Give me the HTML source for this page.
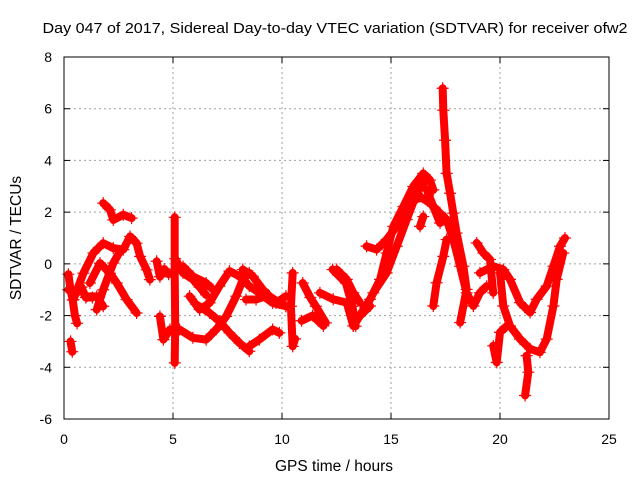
<!DOCTYPE html>
<html><head><meta charset="utf-8"><style>
html,body{margin:0;padding:0;background:#fff}
svg{display:block;font-family:"Liberation Sans",sans-serif}
</style></head><body>
<svg id="chart" width="640" height="480" viewBox="0 0 640 480">
<rect width="640" height="480" fill="#fff"/>
<text x="335" y="33" font-size="14.5" text-anchor="middle" textLength="585" lengthAdjust="spacingAndGlyphs" fill="#000">Day 047 of 2017, Sidereal Day-to-day VTEC variation (SDTVAR) for receiver ofw2</text>
<g id="grid"></g>
<g id="series"></g>
<rect x="64" y="57" width="545" height="362" fill="none" stroke="#000" stroke-width="1"/>
<g id="ticks"></g>
<text x="334" y="471" font-size="15.5" text-anchor="middle">GPS time / hours</text>
<text transform="translate(21,238) rotate(-90)" font-size="15.5" text-anchor="middle">SDTVAR / TECUs</text>
</svg>
<script>
const xTicks = [0, 5, 10, 15, 20, 25];
const yTicks = [-6, -4, -2, 0, 2, 4, 6, 8];
const arcHours = [
 [0.2,0.3,0.4,0.5,0.6],
 [0.2,0.5,0.8,1.0,1.3],
 [0.43,0.89,1.35,1.8,2.26,2.72,3.03,3.33,3.49,3.79,3.94],
 [1.04,1.5,1.8],
 [1.19,1.65,2.11,2.42,2.87,3.33],
 [1.5,1.8,2.26,2.57],
 [1.8,2.11,2.26,2.72,3.1],
 [0.3,0.38],
 [4.25,4.4,4.6,4.8],
 [4.4,4.56,4.86],
 [5.08,5.08,5.1,5.08],
 [5.1,5.46,5.91,6.22,6.52],
 [6.07,6.68,7.13,7.59,8.05,8.5],
 [5.3,5.91,6.52,6.98,7.44,7.9,8.2,8.5],
 [5.76,6.22,6.68,7.13,7.59,8.05,8.5,8.96,9.57,10.18],
 [5.46,5.91,6.52,6.83],
 [8.2,8.66,9.12,9.42,9.88,10.18],
 [8.35,8.81,9.27,9.73,10.18],
 [8.5,8.96,9.57,9.88],
 [10.49,10.41,10.49,10.6],
 [10.95,11.3,11.55,12.01],
 [12.32,12.93,13.23,13.38],
 [10.9,11.4,11.9],
 [11.74,12.35,12.97,13.27,13.58,14.04],
 [12.51,12.97,13.27,13.58],
 [13.27,14.04,14.5,14.8,15.11,15.57,16.02,16.48,16.79,16.94],
 [14.19,14.8,15.26,15.72,16.18,16.48],
 [13.88,14.34,14.8,15.26,15.72,16.33,16.79,17.25,17.55,17.86,18.17,18.47,18.78,19.08,19.39],
 [16.64,16.94,17.25,17.55],
 [17.37,17.4,17.48,17.55,17.71,17.86,18.01,18.32,18.47,18.17],
 [16.94,17.09,17.4,17.55],
 [16.33,16.48],
 [18.93,19.24,19.54,19.69],
 [19.08,19.69,20.15,20.46,20.92,21.38,21.68,22.14,22.45,22.75,22.98],
 [20.0,20.15,20.46,20.92,21.38,21.83,22.14,22.45,22.6,22.9],
 [19.69,19.85,20.0,20.31],
 [21.22,21.3,21.15]
];
const arcValues = [
 [-0.4,-1.0,-1.4,-2.0,-2.3],
 [-1.0,-1.2,-0.9,-1.3,-1.3],
 [-1.38,-0.36,0.42,0.8,0.61,0.55,1.06,0.8,0.29,-0.23,-0.61],
 [-1.26,-1.26,-1.64],
 [-0.74,0.03,-0.36,-0.74,-1.38,-1.9],
 [-1.77,-1.0,0.03,0.48],
 [2.35,2.09,1.7,1.9,1.77],
 [-3.0,-3.4],
 [0.1,-0.5,-0.2,-0.4],
 [-2.03,-2.93,-2.54],
 [1.8,-0.22,-2.41,-3.83],
 [0.2,-0.35,-0.6,-0.9,-1.2],
 [-1.57,-1.9,-2.22,-2.67,-3.06,-3.38],
 [-2.54,-2.86,-2.93,-2.54,-2.03,-1.25,-0.61,-0.35],
 [-1.25,-1.77,-1.51,-0.86,-0.28,-0.48,-0.86,-1.12,-1.51,-1.64],
 [-0.1,-0.48,-0.74,-0.99],
 [-0.22,-0.48,-0.99,-1.25,-1.51,-1.64],
 [-1.38,-1.38,-1.25,-1.51,-1.25],
 [-3.19,-2.93,-2.54,-2.67],
 [-0.35,-1.64,-3.19,-2.9],
 [-0.74,-1.3,-1.64,-2.28],
 [-0.22,-0.74,-1.64,-2.41],
 [-2.2,-2.0,-2.4],
 [-1.12,-1.37,-1.5,-2.4,-2.01,-1.63],
 [-0.22,-0.6,-1.12,-1.5],
 [-2.4,-1.37,-0.6,0.42,1.45,2.22,2.99,3.5,3.24,2.86],
 [-1.12,-0.35,0.68,1.71,2.73,3.12],
 [0.68,0.55,0.94,1.45,2.22,2.6,2.35,1.96,1.71,0.94,-0.09,-1.12,-1.63,-1.12,-0.86],
 [2.86,2.22,1.58,1.71],
 [6.79,5.94,4.78,3.5,2.73,1.96,1.19,-0.09,-0.99,-2.27],
 [-1.63,-0.73,0.29,0.94],
 [1.45,1.83],
 [0.81,0.42,0.17,-1.12],
 [-0.35,-0.09,-0.22,-0.6,-1.5,-1.88,-1.37,-0.86,-0.09,0.68,1.0],
 [-0.35,-1.63,-2.4,-2.91,-3.29,-3.42,-2.91,-1.63,-0.6,0.42],
 [-3.17,-3.81,-2.65,-2.4],
 [-3.55,-4.19,-5.09]
];
const NS = "http://www.w3.org/2000/svg";
const X0 = 64, X1 = 609, Y0 = 419, Y1 = 57;
function xs(h){ return X0 + (h - 0) / 25 * (X1 - X0); }
function ys(v){ return Y0 - (v + 6) / 14 * (Y0 - Y1); }
const grid = document.getElementById('grid');
const ticks = document.getElementById('ticks');
xTicks.forEach(t => {
  const x = xs(t);
  if (t > 0 && t < 25) {
    const g = document.createElementNS(NS, 'line');
    
    
    g.setAttribute('x1', x); g.setAttribute('x2', x); g.setAttribute('y1', Y1); g.setAttribute('y2', Y0);
    g.setAttribute('stroke', '#a0a0a0'); g.setAttribute('stroke-dasharray', '2,3');
    grid.appendChild(g);
  }
  [[Y0, Y0 - 6], [Y1, Y1 + 6]].forEach(p => {
    const tk = document.createElementNS(NS, 'line');
    
    
    tk.setAttribute('x1', x); tk.setAttribute('x2', x); tk.setAttribute('y1', p[0]); tk.setAttribute('y2', p[1]);
    tk.setAttribute('stroke', '#000');
    ticks.appendChild(tk);
  });
  const lb = document.createElementNS(NS, 'text');
  
  
  lb.setAttribute('x', x); lb.setAttribute('y', 444);
  lb.setAttribute('font-size', '14'); lb.setAttribute('text-anchor', 'middle');
  lb.textContent = t;
  ticks.appendChild(lb);
});
yTicks.forEach(t => {
  const y = ys(t);
  if (t > -6 && t < 8) {
    const g = document.createElementNS(NS, 'line');
    
    
    g.setAttribute('x1', X0); g.setAttribute('x2', X1); g.setAttribute('y1', y); g.setAttribute('y2', y);
    g.setAttribute('stroke', '#a0a0a0'); g.setAttribute('stroke-dasharray', '2,3');
    grid.appendChild(g);
  }
  [[X0, X0 + 6], [X1, X1 - 6]].forEach(p => {
    const tk = document.createElementNS(NS, 'line');
    
    
    tk.setAttribute('x1', p[0]); tk.setAttribute('x2', p[1]); tk.setAttribute('y1', y); tk.setAttribute('y2', y);
    tk.setAttribute('stroke', '#000');
    ticks.appendChild(tk);
  });
  const lb = document.createElementNS(NS, 'text');
  
  
  lb.setAttribute('x', 52); lb.setAttribute('y', y + 5);
  lb.setAttribute('font-size', '14'); lb.setAttribute('text-anchor', 'end');
  lb.textContent = t;
  ticks.appendChild(lb);
});
const series = document.getElementById('series');
arcHours.forEach((hs, i) => {
  const vs = arcValues[i];
  const pts = hs.map((h, j) => xs(h).toFixed(1) + ',' + ys(vs[j]).toFixed(1)).join(' ');
  const pl = document.createElementNS(NS, 'polyline');
  
  
  pl.setAttribute('points', pts);
  pl.setAttribute('fill', 'none'); pl.setAttribute('stroke', '#ff0000');
  pl.setAttribute('stroke-width', '8'); pl.setAttribute('stroke-linejoin', 'round'); pl.setAttribute('stroke-linecap', 'round');
  series.appendChild(pl);
  hs.forEach((h, j) => {
    const x = xs(h), y = ys(vs[j]);
    const m = document.createElementNS(NS, 'path');
    
    
    m.setAttribute('d', `M${x-6} ${y}H${x+6}M${x} ${y-6}V${y+6}`);
    m.setAttribute('stroke', '#ff0000'); m.setAttribute('stroke-width', '1.2');
    series.appendChild(m);
  });
});
</script>
</body></html>
